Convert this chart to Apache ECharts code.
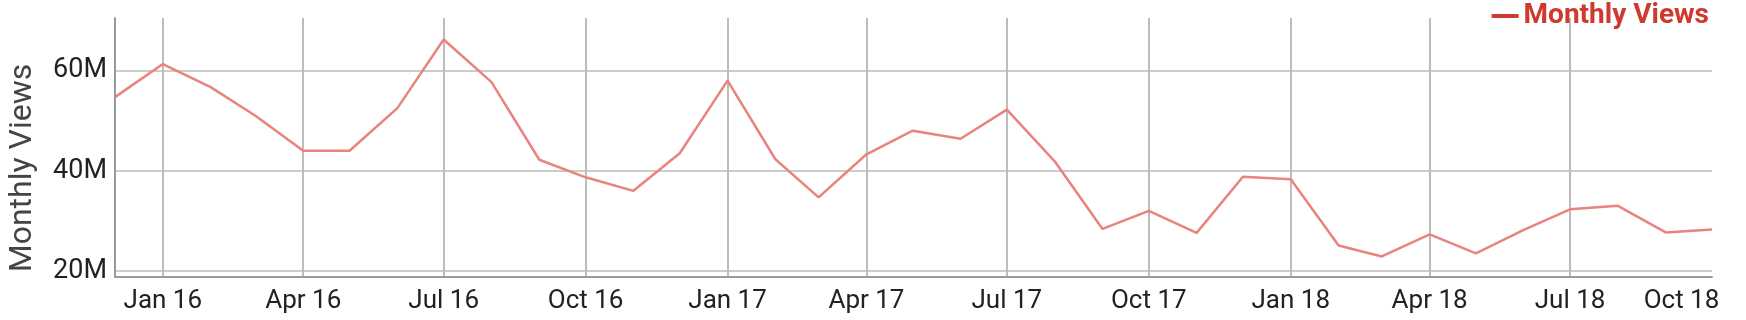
<!DOCTYPE html>
<html><head><meta charset="utf-8">
<script src="https://cdn.jsdelivr.net/npm/echarts@6/dist/echarts.min.js"></script>
<style>html,body{margin:0;padding:0;background:#fff}#c{width:1746px;height:320px}</style>
</head><body><div id="c"></div>
<script>
const months = ['2015-12-01','2016-01-01','2016-02-01','2016-03-01','2016-04-01','2016-05-01','2016-06-01','2016-07-01','2016-08-01','2016-09-01','2016-10-01','2016-11-01',
  '2016-12-01','2017-01-01','2017-02-01','2017-03-01','2017-04-01','2017-05-01','2017-06-01','2017-07-01','2017-08-01','2017-09-01','2017-10-01','2017-11-01',
  '2017-12-01','2018-01-01','2018-02-01','2018-03-01','2018-04-01','2018-05-01','2018-06-01','2018-07-01','2018-08-01','2018-09-01','2018-10-01'];
const monthlyViews = [54.7e6, 61.3e6, 56.7e6, 51.0e6, 44.0e6, 44.0e6, 52.5e6, 66.2e6, 57.7e6, 42.2e6, 38.7e6, 36.0e6,
  43.5e6, 58.0e6, 42.3e6, 34.7e6, 43.3e6, 48.0e6, 46.4e6, 52.2e6, 41.9e6, 28.4e6, 32.0e6, 27.6e6,
  38.8e6, 38.3e6, 25.1e6, 22.9e6, 27.3e6, 23.5e6, 28.2e6, 32.3e6, 33.0e6, 27.7e6, 28.3e6];
const xTickDates = ['2016-01-01','2016-04-01','2016-07-01','2016-10-01','2017-01-01','2017-04-01','2017-07-01','2017-10-01','2018-01-01','2018-04-01','2018-07-01','2018-10-01'];
const xTickLabels = ['Jan 16','Apr 16','Jul 16','Oct 16','Jan 17','Apr 17','Jul 17','Oct 17','Jan 18','Apr 18','Jul 18','Oct 18'];
const xGridDates = ['2016-01-01','2016-04-01','2016-07-01','2016-10-01','2017-01-01','2017-04-01','2017-07-01','2017-10-01','2018-01-01','2018-04-01','2018-07-01'];
const yTickValues = [20e6, 40e6, 60e6];
const yTickLabels = ['20M','40M','60M'];
const yRange = [18.8e6, 70.5e6];
const xRange = ['2015-12-01', '2018-10-01'];
const seriesName = 'Monthly Views';
const yAxisTitle = 'Monthly Views';

function ts(s){ const p = s.split('-').map(Number); return Date.UTC(p[0], p[1]-1, p[2]); }
const xTickTs = xTickDates.map(ts);
const lastTs = xTickTs[xTickTs.length-1];

const chart = echarts.init(document.getElementById('c'), null, {renderer:'canvas'});
chart.setOption({
  animation: false,
  backgroundColor: '#fff',
  textStyle: { fontFamily: 'Roboto' },
  grid: { left: 115, right: 34, top: 18, bottom: 43, containLabel: false, outerBoundsMode: 'none' },
  legend: {
    right: 37, top: 2, padding: 0,
    icon: 'rect', itemWidth: 27, itemHeight: 4,
    itemStyle: { color: '#d0392f' },
    textStyle: { fontSize: 28, fontWeight: 'bold', color: '#d0392f', fontFamily: 'Roboto' },
    data: [seriesName]
  },
  xAxis: {
    type: 'value',
    min: ts(xRange[0]), max: ts(xRange[1]),
    axisLine: { show: true, onZero: false, lineStyle: { color: '#9a9a9a', width: 2 } },
    axisTick: { show: false, customValues: xGridDates.map(ts) },
    splitLine: { show: true, lineStyle: { color: '#bdbdbd', width: 2 } },
    axisLabel: {
      customValues: xTickTs,
      fontSize: 26, color: '#222', margin: 11, fontFamily: 'Roboto',
      formatter: function (v) {
        const i = xTickTs.indexOf(v);
        const t = i >= 0 ? xTickLabels[i] : '';
        return v === lastTs ? '{last|' + t + '}' : t;
      },
      rich: { last: { fontSize: 26, color: '#222', fontFamily: 'Roboto', padding: [0, 61, 0, 0] } }
    }
  },
  yAxis: {
    type: 'value',
    min: yRange[0], max: yRange[1],
    name: yAxisTitle, nameLocation: 'middle', nameGap: 76, nameRotate: 90,
    nameTextStyle: { fontSize: 32, color: '#444', fontFamily: 'Roboto', padding: [0, 41, 0, 0] },
    axisLine: { show: true, onZero: false, lineStyle: { color: '#9a9a9a', width: 2 } },
    axisTick: { show: false, customValues: yTickValues },
    splitLine: { show: true, lineStyle: { color: '#cccccc', width: 2 } },
    axisLabel: {
      customValues: yTickValues,
      fontSize: 27, color: '#222', margin: 8, fontFamily: 'Roboto',
      padding: [8, 0, 0, 0],
      formatter: function (v) { const i = yTickValues.indexOf(v); return i >= 0 ? yTickLabels[i] : ''; }
    }
  },
  series: [{
    name: seriesName, type: 'line',
    data: months.map((m, i) => [ts(m), monthlyViews[i]]),
    showSymbol: false,
    lineStyle: { color: '#e8837d', width: 2.5 },
    itemStyle: { color: '#e8837d' }
  }]
});
</script></body></html>
